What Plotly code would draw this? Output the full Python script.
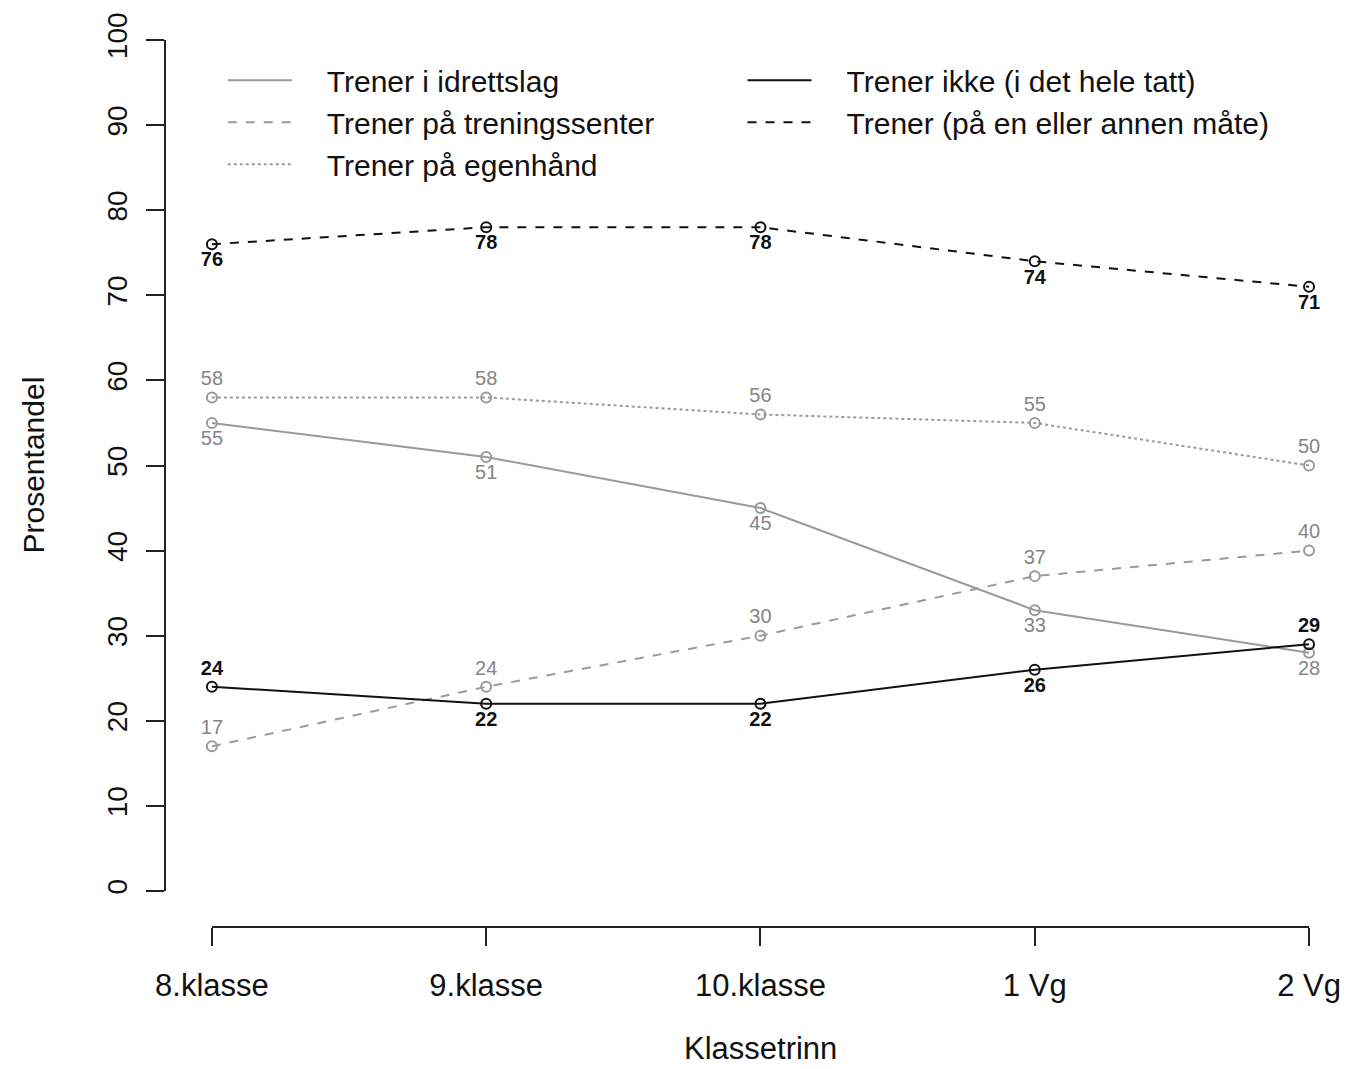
import plotly.graph_objects as go

categories = ["8.klasse", "9.klasse", "10.klasse", "1 Vg", "2 Vg"]
idrettslag = [55, 51, 45, 33, 28]
treningssenter = [17, 24, 30, 37, 40]
egenhand = [58, 58, 56, 55, 50]
trener_ikke = [24, 22, 22, 26, 29]
trener = [76, 78, 78, 74, 71]

pos_idrettslag = ["bottom center"] * 5
pos_treningssenter = ["top center"] * 5
pos_egenhand = ["top center"] * 5
pos_trener_ikke = ["top center", "bottom center", "bottom center", "bottom center", "top center"]
pos_trener = ["bottom center"] * 5

GRAY = "#9a9a9a"
GRAY_TXT = "#858585"
BLACK = "#111111"
FONT = "Liberation Sans, Arial, sans-serif"

xs = list(range(len(categories)))

series = [
    ("Trener i idrettslag", idrettslag, GRAY, GRAY_TXT, "solid", pos_idrettslag, False, "legend"),
    ("Trener på treningssenter", treningssenter, GRAY, GRAY_TXT, "dash", pos_treningssenter, False, "legend"),
    ("Trener på egenhånd", egenhand, GRAY, GRAY_TXT, "dot", pos_egenhand, False, "legend"),
    ("Trener ikke (i det hele tatt)", trener_ikke, BLACK, BLACK, "solid", pos_trener_ikke, True, "legend2"),
    ("Trener (på en eller annen måte)", trener, BLACK, BLACK, "dash", pos_trener, True, "legend2"),
]

fig = go.Figure()
for name, y, color, txtcolor, dash, pos, bold, lg in series:
    fig.add_trace(go.Scatter(
        x=xs, y=y, name=name, mode="lines+markers+text", showlegend=False,
        line=dict(color=color, width=2, dash=dash),
        marker=dict(symbol="circle-open", size=10, color=color, line=dict(width=2, color=color)),
        text=[str(v) for v in y], textposition=pos,
        textfont=dict(family=FONT, size=20, color=txtcolor, weight="bold" if bold else "normal"),
    ))
# legend entries (line samples only, as in the original)
for name, y, color, txtcolor, dash, pos, bold, lg in series:
    fig.add_trace(go.Scatter(
        x=[None], y=[None], name="\u2003" + name, mode="lines", legend=lg,
        line=dict(color=color, width=2, dash=dash), showlegend=True, hoverinfo="skip",
    ))

# detached R-style axis lines
fig.add_shape(type="line", xref="paper", yref="y", x0=0, x1=0, y0=0, y1=100,
              line=dict(color="#222", width=2))
fig.add_shape(type="line", xref="x", yref="paper", x0=0, x1=len(categories) - 1, y0=0, y1=0,
              line=dict(color="#222", width=2))

# axis titles centred on the data extent (as R does)
fig.add_annotation(text="Klassetrinn", xref="x", yref="paper", x=(len(categories) - 1) / 2, y=0,
                   yshift=-121, yanchor="middle", showarrow=False,
                   font=dict(family=FONT, size=31, color="#111"))
fig.add_annotation(text="Prosentandel", xref="paper", yref="y", x=0, y=50, xshift=-132,
                   xanchor="center", textangle=-90, showarrow=False,
                   font=dict(family=FONT, size=30, color="#111"))

legend_common = dict(
    orientation="v", yanchor="top", xanchor="left", y=0.984, itemwidth=64,
    font=dict(family=FONT, size=30, color="#111"), bgcolor="rgba(0,0,0,0)",
    tracegroupgap=0,
)

fig.update_layout(
    width=1342, height=1061,
    margin=dict(l=157, r=30, t=32, b=142),
    paper_bgcolor="white", plot_bgcolor="white",
    font=dict(family=FONT, size=31, color="#111"),
    showlegend=True,
    legend=dict(x=0.05, **legend_common),
    legend2=dict(x=0.5, **legend_common),
    xaxis=dict(
        range=[-0.171, 4.04], tickmode="array", tickvals=xs, ticktext=categories,
        showgrid=False, zeroline=False, showline=False, automargin=False,
        ticks="outside", ticklen=18, tickwidth=2, tickcolor="#222",
        tickfont=dict(size=31), ticklabelstandoff=13,
    ),
    yaxis=dict(
        range=[-4.23, 100], tickmode="array", tickvals=list(range(0, 101, 10)),
        showgrid=False, zeroline=False, showline=False, automargin=False,
        ticks="outside", ticklen=18, tickwidth=2, tickcolor="#222",
        tickangle=-90, tickfont=dict(size=28), ticklabelstandoff=8,
    ),
)

fig.write_html("out.html")
